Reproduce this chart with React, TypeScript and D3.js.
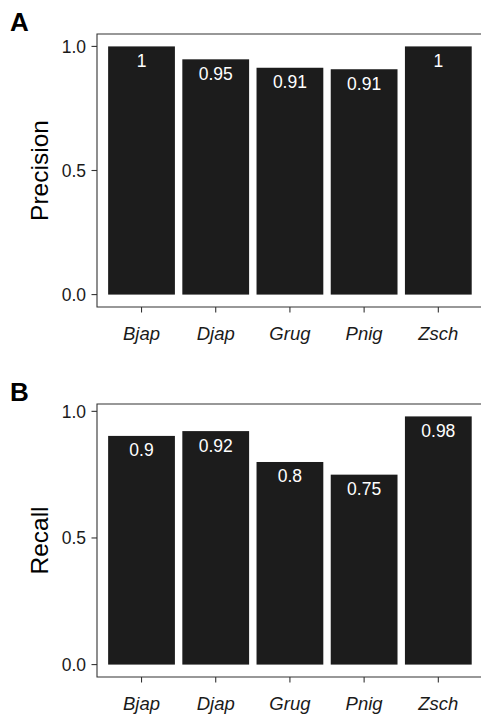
import React from "react";
import * as d3 from "d3";

const categories = ["Bjap", "Djap", "Grug", "Pnig", "Zsch"];
const precisionValues = [1, 0.948, 0.914, 0.908, 1];
const recallValues = [0.903, 0.922, 0.8, 0.75, 0.98];
const yTicks = [0, 0.5, 1];
const panelTitles = ["A", "B"];
const yTitles = ["Precision", "Recall"];

const FONT = "'Liberation Sans', Arial, Helvetica, sans-serif";
const BAR = "#1c1c1c";
const LINE = "#333333";

type PanelProps = {
  values: number[];
  top: number;
  bottom: number;
  letter: string;
  letterY: number;
  yTitle: string;
};

function Panel({ values, top, bottom, letter, letterY, yTitle }: PanelProps) {
  const left = 97;
  const step = 74.2;
  const right = left + 5.2 * step;
  const x = d3
    .scaleBand<string>()
    .domain(categories)
    .range([left, right])
    .paddingInner(0.1)
    .paddingOuter(0.15);
  const maxV = d3.max(values) ?? 1;
  const lo = -0.05 * maxV;
  const hi = maxV * 1.05;
  const y = d3.scaleLinear().domain([lo, hi]).range([bottom, top]);
  const fmt = (v: number) => String(+v.toFixed(2));

  return (
    <g>
      <text x={10} y={letterY} fontFamily={FONT} fontWeight="bold" fontSize={26} fill="#000">
        {letter}
      </text>
      <text
        transform={`translate(47.5,${(top + bottom) / 2}) rotate(-90)`}
        textAnchor="middle"
        fontFamily={FONT}
        fontSize={24.5}
        fill="#000"
      >
        {yTitle}
      </text>
      {categories.map((c, i) => (
        <rect
          key={c}
          x={x(c)}
          width={x.bandwidth()}
          y={y(values[i])}
          height={y(0) - y(values[i])}
          fill={BAR}
        />
      ))}
      {categories.map((c, i) => (
        <text
          key={c + "l"}
          x={(x(c) ?? 0) + x.bandwidth() / 2}
          y={y(values[i]) + 20.5}
          textAnchor="middle"
          fontFamily={FONT}
          fontSize={17.5}
          fill="#ffffff"
        >
          {fmt(values[i])}
        </text>
      ))}
      <path
        d={`M${right + 2},${top}H${left}V${bottom}H${right + 2}`}
        fill="none"
        stroke={LINE}
        strokeWidth={1.1}
      />
      {yTicks.map((t) => (
        <g key={t}>
          <line x1={91.5} x2={left} y1={y(t)} y2={y(t)} stroke={LINE} strokeWidth={1.1} />
          <text
            x={86}
            y={y(t)}
            dy="0.36em"
            textAnchor="end"
            fontFamily={FONT}
            fontSize={17.5}
            fill="#1a1a1a"
          >
            {t.toFixed(1)}
          </text>
        </g>
      ))}
      {categories.map((c) => {
        const cx = (x(c) ?? 0) + x.bandwidth() / 2;
        return (
          <g key={c + "t"}>
            <line x1={cx} x2={cx} y1={bottom} y2={bottom + 5.5} stroke={LINE} strokeWidth={1.1} />
            <text
              x={cx}
              y={bottom + 32.5}
              textAnchor="middle"
              fontFamily={FONT}
              fontStyle="italic"
              fontSize={18.5}
              fill="#1a1a1a"
            >
              {c}
            </text>
          </g>
        );
      })}
    </g>
  );
}

export default function App() {
  return (
    <div style={{ position: "fixed", left: 0, top: 0 }}>
      <svg width={481} height={714} style={{ display: "block", background: "#fff" }}>
        <Panel
          values={precisionValues}
          top={34}
          bottom={307}
          letter={panelTitles[0]}
          letterY={31}
          yTitle={yTitles[0]}
        />
        <Panel
          values={recallValues}
          top={404}
          bottom={677}
          letter={panelTitles[1]}
          letterY={401}
          yTitle={yTitles[1]}
        />
      </svg>
    </div>
  );
}
